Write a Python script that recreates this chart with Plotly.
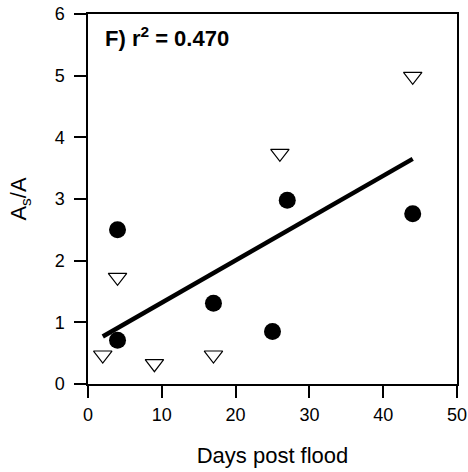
import plotly.graph_objects as go

circle_x = [4, 4, 17, 25, 27, 44]
circle_y = [2.5, 0.71, 1.31, 0.85, 2.98, 2.76]
tri_x = [2, 4, 9, 17, 26, 44]
tri_y = [0.47, 1.73, 0.33, 0.47, 3.74, 4.99]
fit_x = [2, 44]
fit_y = [0.77, 3.65]

fig = go.Figure()
fig.add_trace(go.Scatter(x=fit_x, y=fit_y, mode="lines",
                         line=dict(color="black", width=4.5), showlegend=False))
fig.add_trace(go.Scatter(x=tri_x, y=tri_y, mode="markers",
                         marker=dict(symbol="triangle-down", size=16, color="white",
                                     line=dict(color="black", width=1.2)),
                         showlegend=False))
fig.add_trace(go.Scatter(x=circle_x, y=circle_y, mode="markers",
                         marker=dict(symbol="circle", size=17, color="black",
                                     line=dict(width=0)),
                         showlegend=False))

font = "Arial, Liberation Sans, sans-serif"
fig.update_layout(
    width=468, height=472,
    margin=dict(l=88, r=11, t=14, b=88),
    paper_bgcolor="white", plot_bgcolor="white",
    font=dict(family=font, color="black"),
    xaxis=dict(range=[0, 50], tickvals=[0, 10, 20, 30, 40, 50],
               showgrid=False, zeroline=False, showline=True, mirror=True,
               linecolor="black", linewidth=1.5, ticks="outside", ticklen=12,
               tickwidth=1.5, tickcolor="black", tickfont=dict(size=18),
               ticklabelstandoff=2, automargin=False,
               title=dict(text="Days post flood", font=dict(size=22), standoff=23)),
    yaxis=dict(range=[0, 6], tickvals=[0, 1, 2, 3, 4, 5, 6],
               showgrid=False, zeroline=False, showline=True, mirror=True,
               linecolor="black", linewidth=1.5, ticks="outside", ticklen=12,
               tickwidth=1.5, tickcolor="black", tickfont=dict(size=18),
               ticklabelstandoff=6, automargin=False,
               title=dict(text="A<sub>s</sub>/A", font=dict(size=22), standoff=22)),
    annotations=[dict(x=0.04, y=0.937, xref="paper", yref="paper",
                      xanchor="left", yanchor="middle", showarrow=False,
                      text="<b>F) r<sup>2</sup> = 0.470</b>",
                      font=dict(size=22, family=font))],
)
fig.write_html("out.html", config={"displayModeBar": False},
               post_script="document.body.style.margin='0';document.body.style.overflow='hidden';")
